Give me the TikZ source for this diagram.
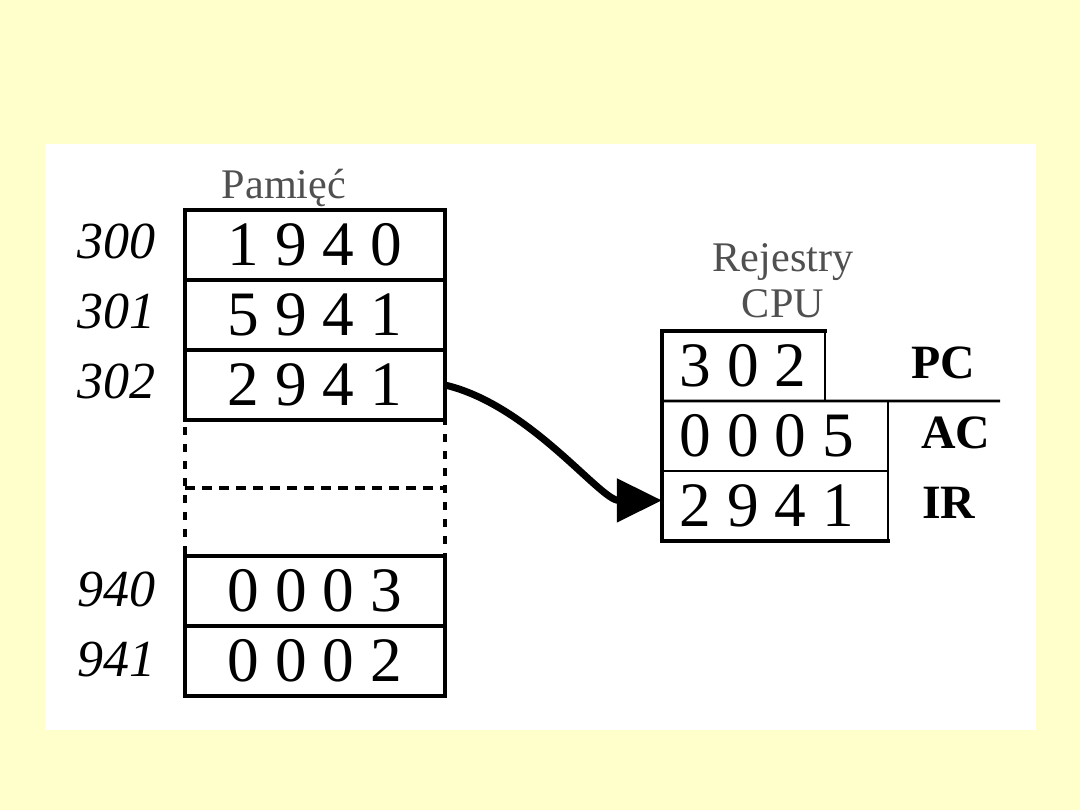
\documentclass[tikz,border=0pt]{standalone}
\usepackage{fontspec}
\setmainfont{Liberation Serif}
\usetikzlibrary{arrows.meta,positioning}
\definecolor{slideBack}{HTML}{FFFFCC}
\definecolor{capGray}{HTML}{505050}
\tikzset{
  mem cell/.style={draw, line width=2.6pt, outer sep=0pt, inner sep=0pt, minimum width=6.5cm, minimum height=1.75cm, font=\fontsize{45}{50}\selectfont},
  mem gap/.style={draw, line width=2.6pt, dash pattern=on 5.7pt off 6.4pt, outer sep=0pt, inner sep=0pt, minimum width=6.5cm, minimum height=1.7cm},
  mem addr/.style={font=\fontsize{37}{40}\selectfont\itshape, anchor=base east, inner sep=0pt},
  reg cell/.style={draw, line width=1.6pt, outer sep=0pt, inner xsep=0.45cm, inner ysep=0pt, minimum height=1.75cm, align=flush left, font=\fontsize{45}{50}\selectfont},
  reg name/.style={font=\fontsize{34}{38}\selectfont\bfseries, anchor=base west, inner sep=0pt},
  caption/.style={font=\fontsize{30}{32.7}\selectfont, text=capGray, align=center, inner sep=0pt},
  frame line/.style={line width=2.8pt, line cap=rect},
  fetch arrow/.style={line width=5pt, -{Triangle[length=32pt,width=30pt]}},
}
\begin{document}
\begin{tikzpicture}[x=0.025cm, y=-0.025cm]
  % Slide background and white panel
  \fill[slideBack] (0,0) rectangle (1080,810);
  \fill[white] (45,144) rectangle (1036,730);

  % Memory
  \node[caption, anchor=base] (memcap) at (284,198) {Pamięć};
  \node[mem cell] (m300) at (315,245) {1 9 4 0};
  \node[mem cell, below=0pt of m300] (m301) {5 9 4 1};
  \node[mem cell, below=0pt of m301] (m302) {2 9 4 1};
  \node[mem gap, below=0pt of m302] (gapA) {};
  \node[mem gap, below=0pt of gapA] (gapB) {};
  \node[mem cell, below=0pt of gapB] (m940) {0 0 0 3};
  \node[mem cell, below=0pt of m940] (m941) {0 0 0 2};
  \draw[frame line] (m302.south west) -- (m300.north west) -- (m300.north east) -- (m302.south east);

  % Addresses
  \node[mem addr] (a300) at (156,258) {300};
  \node[mem addr] (a301) at (156,328) {301};
  \node[mem addr] (a302) at (156,398) {302};
  \node[mem addr] (a940) at (156,606) {940};
  \node[mem addr] (a941) at (156,676) {941};

  % CPU registers
  \node[caption, anchor=north] (regcap) at (783,243) {Rejestry\\CPU};
  \node[reg cell, text width=3.175cm] (pc) at (743.5,366) {3~0~2};
  \node[reg cell, text width=4.75cm, anchor=north west] (ac) at (pc.south west) {0~0~0~5};
  \node[reg cell, text width=4.75cm, below=0pt of ac] (ir) {2~9~4~1};
  \coordinate (pcrule) at (1000,401);
  \draw[line width=2pt] (pc.south west) -- (pcrule);
  \draw[frame line] (pc.north east) -- (pc.north west) -- (ir.south west) -- (ir.south east);

  \node[reg name] (pcname) at (911,378) {PC};
  \node[reg name] (acname) at (921,448) {AC};
  \node[reg name] (irname) at (922,518) {IR};

  % Fetch: memory word goes to IR
  \draw[fetch arrow] (m302.east) .. controls +(85,20) and +(-62,0) .. ([yshift=4pt]ir.west);
\end{tikzpicture}
\end{document}
